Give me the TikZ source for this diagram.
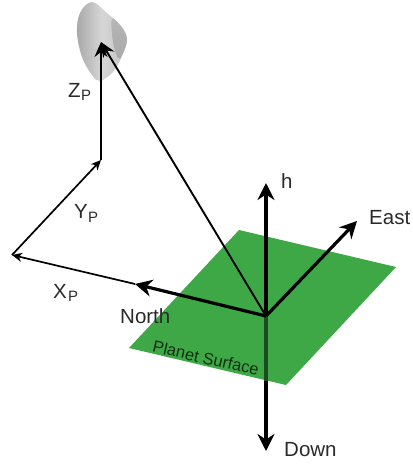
\documentclass[tikz,border=0pt]{standalone}
\usepackage{fontspec}
\setmainfont{Liberation Sans}
\usetikzlibrary{arrows.meta}
\definecolor{plane}{HTML}{3DA845}
\definecolor{labelgrey}{HTML}{2A2A2A}
\tikzset{
  thickarrow/.style={line width=3.2pt,-{Stealth[length=17pt,width=17pt,inset=5.5pt]}},
  thinarrow/.style={line width=1.7pt,-{Stealth[length=10pt,width=9pt,inset=3pt]}},
  midarrow/.style={line width=1.9pt,-{Stealth[length=15pt,width=13pt,inset=5pt]}},
  lab/.style={text=labelgrey,font=\fontsize{20.5}{22}\selectfont,inner sep=0pt},
  sublab/.style={text=labelgrey,font=\fontsize{15}{16}\selectfont,inner sep=0pt,anchor=west}
}
\begin{document}
\begin{tikzpicture}[x=1pt,y=-1pt]
\useasboundingbox (0,0) rectangle (412,465);
% dish
\path[left color=black!34,right color=black!24,middle color=black!16]
  plot[smooth cycle,tension=0.6] coordinates {(92,2) (108,14) (122,27) (127,40) (122,56) (113,72) (100,81) (92,75) (82,57) (77,33) (80,13)};
\path[top color=black!28,bottom color=black!34]
  plot[smooth cycle,tension=0.6] coordinates {(112,19) (122,28) (127,40) (122,55) (118,58) (113,42)};
% plane
\coordinate (pa) at (239,230);
\coordinate (pb) at (396,267);
\coordinate (pc) at (286,385);
\coordinate (pd) at (129,348);
\fill[plane] (pa) -- (pb) -- (pc) -- (pd) -- cycle;
% axes
\coordinate (o) at (266,316);
\coordinate (up) at (266,183);
\coordinate (down) at (266,451);
\coordinate (east) at (357,221);
\coordinate (north) at (135,284);
\coordinate (xp) at (12,255);
\coordinate (yp) at (101,160);
\coordinate (zp) at (101,42);
\coordinate (edge) at (266,380.5);
\draw[thickarrow] (o) -- (up);
\draw[thickarrow] (o) -- (down);
\draw[line width=3.2pt,draw=plane!45!black] (o) -- (edge);
\draw[thickarrow] (o) -- (east);
\draw[thickarrow] (o) -- (north);
\draw[midarrow] (o) -- (zp);
\draw[thinarrow] (north) -- (xp);
\draw[thinarrow] (xp) -- (yp);
\draw[midarrow] (yp) -- (zp);
% labels
\node[lab,anchor=west] (lh) at (281,181) {h};
\node[lab,anchor=west] (le) at (369,218) {East};
\node[lab,anchor=west] (ln) at (120,316) {North};
\node[lab,anchor=west] (ld) at (284,450) {Down};
\node[lab,anchor=west] (lx) at (53,291) {X};
\node[lab,anchor=west] (ly) at (74,211) {Y};
\node[lab,anchor=west] (lz) at (68,90) {Z};
\node[sublab] (sx) at (68,296) {P};
\node[sublab] (sy) at (88,217) {P};
\node[sublab] (sz) at (81,95) {P};
\node[rotate=-13,text=plane!28!black,font=\fontsize{16.5}{18}\selectfont,inner sep=0pt] (ps) at (206,358) {Planet Surface};
\end{tikzpicture}
\end{document}
